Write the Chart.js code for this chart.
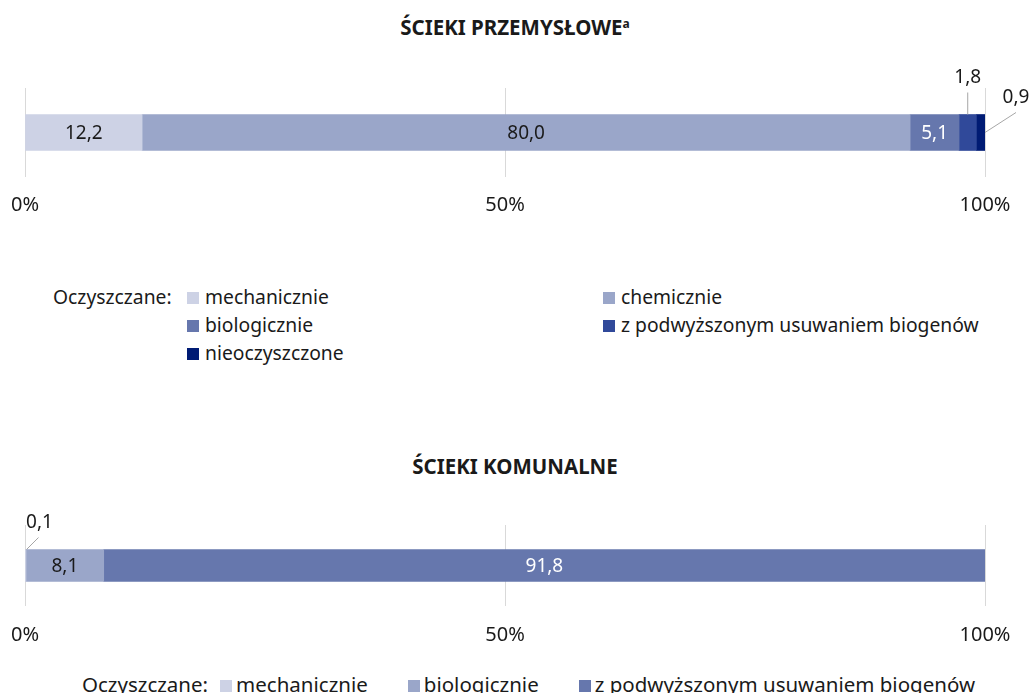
<!DOCTYPE html>
<html lang="pl">
<head>
<meta charset="utf-8">
<script src="https://cdn.jsdelivr.net/npm/chart.js@4.4.1/dist/chart.umd.min.js"></script>
<style>
  body { margin: 0; width: 1030px; height: 693px; overflow: hidden; background: #fff;
         font-family: 'Noto Sans', sans-serif; color: #1a1a1a; position: relative; }
  .title { position: absolute; left: 0; width: 1030px; text-align: center;
           font-weight: bold; font-size: 20.5px; line-height: 26px; }
  .title sup { font-size: 12px; vertical-align: 7px; line-height: 0; }
  .wrap { position: absolute; left: 0; width: 1030px; }
  .legend { position: absolute; font-size: 19.3px; line-height: 28px; }
  .box { display: inline-block; width: 12px; height: 12px; margin-right: 6px; }
  #legend1 { left: 53px; top: 283px; display: grid; grid-template-columns: 134px 416px auto; }
  #legend2 { left: 82px; top: 670px; display: flex; font-size: 20.5px; }
  #legend2 .item { margin-left: 40px; }
  #legend2 .item:nth-child(2) { margin-left: 12px; }
  #legend2 .box { margin-right: 4px; }
</style>
</head>
<body>
<div class="title" id="title1" style="top:14px">ŚCIEKI PRZEMYSŁOWE<sup>a</sup></div>
<div class="wrap" id="wrap1" style="top:50px;height:182px"><canvas id="chart1"></canvas></div>
<div class="legend" id="legend1"></div>

<div class="title" id="title2" style="top:453px">ŚCIEKI KOMUNALNE</div>
<div class="wrap" id="wrap2" style="top:490px;height:160px"><canvas id="chart2"></canvas></div>
<div class="legend" id="legend2"></div>

<script>
const legendPrefix = 'Oczyszczane:';
const percentTicks = [0, 50, 100];

const industrialLabels = ['mechanicznie', 'chemicznie', 'biologicznie', 'z podwyższonym usuwaniem biogenów', 'nieoczyszczone'];
const industrialValues = [12.2, 80.0, 5.1, 1.8, 0.9];
const industrialColors = ['#cdd2e5', '#9aa6c9', '#6677ad', '#30499a', '#001b74'];

const municipalLabels = ['mechanicznie', 'biologicznie', 'z podwyższonym usuwaniem biogenów'];
const municipalValues = [0.1, 8.1, 91.8];
const municipalColors = ['#cdd2e5', '#9aa6c9', '#6677ad'];

function fmt(v) {
    return v.toFixed(1).replace('.', ',');
}

function isDark(hex) {
    let r = parseInt(hex.substr(1, 2), 16);
    let g = parseInt(hex.substr(3, 2), 16);
    let b = parseInt(hex.substr(5, 2), 16);
    return (0.299 * r + 0.587 * g + 0.114 * b) / 255 < 0.5;
}

// values inside segments, small ones outside with a leader line
const segmentLabels = {
    id: 'segmentLabels',
    afterDatasetsDraw(chart, args, opts) {
        let ctx = chart.ctx;
        ctx.save();
        ctx.font = '19px "Noto Sans"';
        chart.data.datasets.forEach((ds, i) => {
            let el = chart.getDatasetMeta(i).data[0];
            let p = el.getProps(['x', 'y', 'base', 'height'], true);
            let value = ds.data[0];
            let callout = opts.callouts[i];
            if (!callout) {
                ctx.fillStyle = isDark(ds.backgroundColor) ? '#ffffff' : '#1a1a1a';
                ctx.textAlign = 'center';
                ctx.textBaseline = 'middle';
                ctx.fillText(fmt(value), (p.x + p.base) / 2, p.y + 1);
                return;
            }
            let top = p.y - p.height / 2;
            let sx, sy;
            if (callout.from === 'top') { sx = (p.x + p.base) / 2; sy = top; }
            else if (callout.from === 'right') { sx = p.x; sy = p.y; }
            else { sx = p.base + 1; sy = top; }
            let ex = sx + callout.dx, ey = sy + callout.dy;
            ctx.strokeStyle = '#a6a6a6';
            ctx.lineWidth = 1;
            ctx.beginPath();
            ctx.moveTo(sx, sy);
            ctx.lineTo(ex, ey);
            ctx.stroke();
            ctx.fillStyle = '#1a1a1a';
            ctx.textAlign = 'center';
            ctx.textBaseline = 'middle';
            ctx.fillText(fmt(value), ex + (callout.tx || 0), ey - 15);
        });
        ctx.restore();
    }
};

function makeChart(id, labels, values, colors, thickness, layout, tickGap, callouts) {
    let ctx = document.getElementById(id).getContext('2d');
    return new Chart(ctx, {
        type: 'bar',
        data: {
            labels: [''],
            datasets: labels.map((label, i) => ({
                label: label,
                data: [values[i]],
                backgroundColor: colors[i],
                borderWidth: 0,
                barThickness: thickness
            }))
        },
        options: {
            indexAxis: 'y',
            responsive: true,
            maintainAspectRatio: false,
            animation: false,
            layout: { padding: layout },
            plugins: {
                legend: { display: false },
                tooltip: { enabled: false },
                segmentLabels: { callouts: callouts }
            },
            scales: {
                x: {
                    stacked: true,
                    min: 0,
                    max: 100,
                    afterBuildTicks: axis => { axis.ticks = percentTicks.map(v => ({ value: v })); },
                    ticks: {
                        callback: v => v + '%',
                        color: '#1a1a1a',
                        padding: 0,
                        maxRotation: 0,
                        font: { family: 'Noto Sans', size: 20 }
                    },
                    // invisible tick marks make the gap under the plot
                    grid: { color: '#d9d9d9', drawTicks: true, tickLength: tickGap, tickColor: 'rgba(0,0,0,0)' },
                    border: { display: false }
                },
                y: { stacked: true, display: false }
            }
        },
        plugins: [segmentLabels]
    });
}

function buildLegend(id, labels, colors) {
    let legend = document.getElementById(id);
    let prefix = document.createElement('div');
    prefix.innerText = legendPrefix;
    legend.appendChild(prefix);
    labels.forEach((label, i) => {
        if (id === 'legend1' && i > 0 && i % 2 === 0) {
            legend.appendChild(document.createElement('div'));
        }
        let item = document.createElement('div');
        item.className = 'item';
        let box = document.createElement('span');
        box.className = 'box';
        box.style.background = colors[i];
        item.appendChild(box);
        item.appendChild(document.createTextNode(label));
        legend.appendChild(item);
    });
}

makeChart('chart1', industrialLabels, industrialValues, industrialColors, 36,
    { top: 38, left: 25, right: 45, bottom: 15 }, 16,
    { 3: { from: 'top', dx: 0, dy: -22 }, 4: { from: 'right', dx: 31, dy: -20 } });
makeChart('chart2', municipalLabels, municipalValues, municipalColors, 32,
    { top: 35, left: 25, right: 45, bottom: 3 }, 17,
    { 0: { from: 'topleft', dx: 12, dy: -12, tx: 1 } });

buildLegend('legend1', industrialLabels, industrialColors);
buildLegend('legend2', municipalLabels, municipalColors);
</script>
</body>
</html>
